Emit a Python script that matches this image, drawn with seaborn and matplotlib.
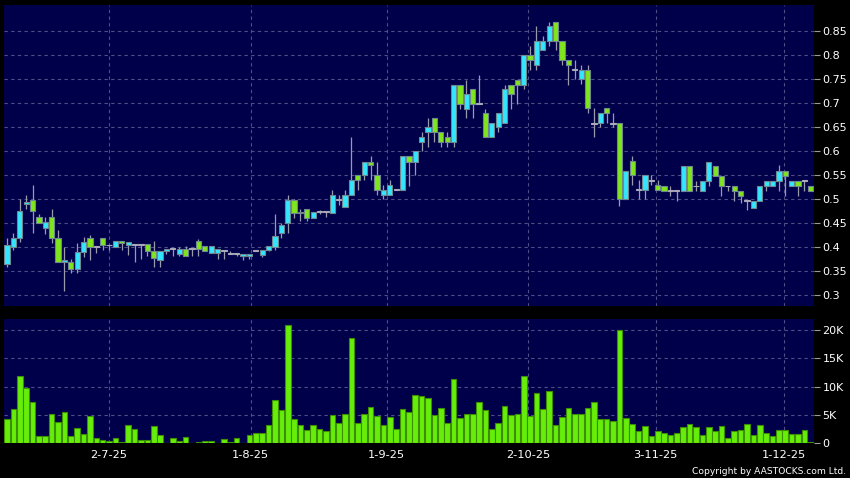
import matplotlib
matplotlib.use("Agg")
import numpy as np
import pandas as pd
import matplotlib.pyplot as plt
from matplotlib.ticker import FuncFormatter, FixedLocator
import seaborn as sns

opens = [0.366, 0.401, 0.419, 0.491, 0.499, 0.464, 0.440, 0.464, 0.419, 0.370,
         0.370, 0.355, 0.390, 0.419, 0.402, 0.419, 0.405, 0.401, 0.414, 0.405,
         0.406, 0.407, 0.407, 0.393, 0.373, 0.393, 0.397, 0.386, 0.397, 0.397,
         0.414, 0.402, 0.388, 0.388, 0.393, 0.388, 0.388, 0.383, 0.383, 0.394,
         0.384, 0.395, 0.400, 0.430, 0.450, 0.499, 0.471, 0.481, 0.461, 0.474,
         0.474, 0.471, 0.499, 0.485, 0.510, 0.550, 0.550, 0.578, 0.550, 0.510,
         0.510, 0.520, 0.520, 0.590, 0.578, 0.619, 0.641, 0.669, 0.640, 0.631,
         0.619, 0.738, 0.689, 0.730, 0.699, 0.679, 0.629, 0.650, 0.659, 0.738,
         0.749, 0.738, 0.800, 0.780, 0.811, 0.830, 0.870, 0.830, 0.790, 0.770,
         0.750, 0.770, 0.659, 0.659, 0.690, 0.659, 0.659, 0.500, 0.580, 0.520,
         0.520, 0.540, 0.530, 0.528, 0.518, 0.518, 0.518, 0.570, 0.528, 0.518,
         0.539, 0.570, 0.549, 0.528, 0.528, 0.518, 0.497, 0.483, 0.497, 0.528,
         0.528, 0.539, 0.560, 0.528, 0.539, 0.539, 0.528]
closes = [0.405, 0.419, 0.475, 0.495, 0.475, 0.451, 0.454, 0.420, 0.370, 0.374,
          0.355, 0.390, 0.411, 0.400, 0.402, 0.405, 0.405, 0.414, 0.410, 0.411,
          0.406, 0.407, 0.393, 0.377, 0.393, 0.397, 0.397, 0.397, 0.383, 0.397,
          0.397, 0.393, 0.402, 0.397, 0.393, 0.388, 0.388, 0.386, 0.386, 0.394,
          0.395, 0.402, 0.423, 0.447, 0.499, 0.471, 0.474, 0.461, 0.474, 0.474,
          0.474, 0.510, 0.499, 0.510, 0.540, 0.540, 0.578, 0.571, 0.520, 0.520,
          0.530, 0.520, 0.590, 0.578, 0.600, 0.631, 0.650, 0.640, 0.619, 0.619,
          0.738, 0.699, 0.720, 0.699, 0.699, 0.629, 0.659, 0.679, 0.730, 0.720,
          0.738, 0.800, 0.790, 0.830, 0.830, 0.861, 0.830, 0.790, 0.780, 0.770,
          0.770, 0.690, 0.659, 0.680, 0.680, 0.659, 0.500, 0.560, 0.550, 0.520,
          0.550, 0.540, 0.520, 0.518, 0.518, 0.518, 0.570, 0.518, 0.528, 0.539,
          0.578, 0.549, 0.528, 0.528, 0.518, 0.508, 0.497, 0.497, 0.528, 0.539,
          0.539, 0.560, 0.549, 0.539, 0.528, 0.539, 0.518]
highs = [0.420, 0.430, 0.500, 0.510, 0.531, 0.470, 0.464, 0.480, 0.436, 0.400,
         0.375, 0.410, 0.421, 0.426, 0.402, 0.419, 0.405, 0.414, 0.414, 0.411,
         0.406, 0.407, 0.407, 0.414, 0.393, 0.397, 0.397, 0.400, 0.403, 0.397,
         0.418, 0.402, 0.402, 0.397, 0.393, 0.393, 0.388, 0.386, 0.386, 0.394,
         0.395, 0.402, 0.469, 0.450, 0.510, 0.500, 0.480, 0.481, 0.474, 0.479,
         0.474, 0.520, 0.510, 0.520, 0.630, 0.550, 0.578, 0.590, 0.578, 0.530,
         0.540, 0.520, 0.590, 0.590, 0.600, 0.641, 0.669, 0.669, 0.640, 0.641,
         0.738, 0.738, 0.749, 0.730, 0.759, 0.689, 0.659, 0.679, 0.738, 0.738,
         0.749, 0.800, 0.820, 0.861, 0.840, 0.870, 0.870, 0.830, 0.790, 0.790,
         0.780, 0.780, 0.690, 0.680, 0.690, 0.680, 0.659, 0.560, 0.590, 0.540,
         0.550, 0.550, 0.540, 0.528, 0.528, 0.518, 0.570, 0.570, 0.539, 0.539,
         0.578, 0.570, 0.549, 0.528, 0.528, 0.518, 0.497, 0.497, 0.528, 0.539,
         0.539, 0.572, 0.560, 0.539, 0.539, 0.539, 0.528]
lows = [0.360, 0.394, 0.411, 0.480, 0.430, 0.451, 0.428, 0.410, 0.370, 0.310,
        0.346, 0.346, 0.380, 0.373, 0.389, 0.395, 0.395, 0.401, 0.395, 0.384,
        0.370, 0.376, 0.383, 0.359, 0.359, 0.386, 0.383, 0.383, 0.383, 0.383,
        0.383, 0.393, 0.388, 0.376, 0.376, 0.388, 0.383, 0.373, 0.376, 0.394,
        0.380, 0.392, 0.395, 0.420, 0.430, 0.461, 0.456, 0.456, 0.461, 0.469,
        0.464, 0.471, 0.489, 0.485, 0.510, 0.520, 0.540, 0.540, 0.510, 0.500,
        0.510, 0.520, 0.520, 0.528, 0.550, 0.600, 0.610, 0.619, 0.609, 0.609,
        0.609, 0.689, 0.669, 0.669, 0.699, 0.629, 0.629, 0.640, 0.659, 0.689,
        0.699, 0.730, 0.769, 0.770, 0.811, 0.820, 0.811, 0.780, 0.739, 0.750,
        0.740, 0.680, 0.630, 0.650, 0.660, 0.650, 0.486, 0.500, 0.530, 0.500,
        0.500, 0.530, 0.520, 0.518, 0.508, 0.497, 0.518, 0.518, 0.518, 0.518,
        0.528, 0.549, 0.508, 0.518, 0.497, 0.492, 0.478, 0.483, 0.497, 0.518,
        0.528, 0.518, 0.508, 0.528, 0.508, 0.518, 0.518]
volume_k = [4.2, 6.0, 11.8, 9.7, 7.2, 1.3, 1.2, 5.1, 3.8, 5.6,
            1.3, 2.7, 1.6, 4.8, 0.9, 0.5, 0.35, 0.9, 0.2, 3.2,
            2.5, 0.5, 0.5, 3.0, 1.4, 0.05, 0.9, 0.35, 1.1, 0.02,
            0.2, 0.35, 0.4, 0.05, 0.8, 0.3, 0.9, 0.1, 1.5, 1.8,
            1.8, 3.3, 7.7, 5.8, 20.8, 4.2, 3.2, 2.4, 3.3, 2.6,
            2.2, 4.9, 3.5, 5.1, 18.6, 3.6, 5.1, 6.4, 4.8, 3.3,
            4.6, 2.6, 6.1, 5.6, 8.5, 8.4, 8.0, 5.0, 6.3, 3.6,
            11.4, 4.5, 5.1, 5.1, 7.2, 5.9, 2.5, 3.5, 6.5, 4.9,
            5.2, 11.9, 4.8, 8.8, 6.0, 9.2, 3.2, 4.7, 6.2, 5.1,
            5.2, 6.3, 7.3, 4.3, 4.2, 3.9, 20.0, 4.5, 3.4, 2.2,
            3.1, 1.3, 2.1, 1.9, 1.5, 1.9, 2.9, 3.4, 2.8, 1.5,
            2.9, 2.2, 3.0, 1.0, 2.1, 2.3, 3.4, 1.5, 3.3, 1.8,
            1.2, 2.4, 2.3, 1.6, 1.6, 2.4, 0.2]
date_labels = ["2-7-25", "1-8-25", "1-9-25", "2-10-25", "3-11-25", "1-12-25"]
price_ticks = [0.3, 0.35, 0.4, 0.45, 0.5, 0.55, 0.6, 0.65, 0.7, 0.75, 0.8, 0.85]
vol_ticks = [0, 5000, 10000, 15000, 20000]
vol_tick_labels = ["0", "5K", "10K", "15K", "20K"]
copyright_text = "Copyright by AASTOCKS.com Ltd."

# tick positions (in trading-day index units)
date_tick_pos = [16.0, 38.2, 59.5, 81.7, 101.7, 121.8]

NAVY = "#00004a"
GRID = "#4f4f86"
UP = "#33e6ff"
DOWN = "#80e61c"
DOJI = "#a8a8b8"
EDGE = "#6f8890"
WICK = "#9a9aaa"
VOL = "#66ee0a"
VOL_EDGE = "#3c9000"

sns.set_style("dark", {"axes.facecolor": NAVY, "figure.facecolor": "black"})
plt.rcParams["font.family"] = ["DejaVu Sans"]

o = np.array(opens); c = np.array(closes)
h = np.array(highs); l = np.array(lows)
idx = np.arange(len(o))
df_vol = pd.DataFrame({"day": idx, "volume": np.array(volume_k) * 1000})

W, H = 850, 478
fig = plt.figure(figsize=(W / 100, H / 100), dpi=100, facecolor="black")
left = 4 / W
width = 810 / W
ax = fig.add_axes([left, 1 - 306 / H, width, 301 / H])
axv = fig.add_axes([left, 1 - 443.3 / H, width, 124.3 / H])

xlim = (-0.47, len(o) - 0.5)

# ---- price panel ----
ax.set_facecolor(NAVY)
ax.vlines(idx, l, h, color=WICK, lw=0.9, zorder=2)
body_bottom = np.minimum(o, c)
body_h = np.abs(c - o)
colors = np.where(c > o, UP, np.where(c < o, DOWN, DOJI))
is_doji = body_h < 1e-9
body_h = np.where(is_doji, 0.0018, body_h)
body_bottom = np.where(is_doji, o - 0.0009, body_bottom)
edges = np.where(is_doji, DOJI, EDGE)
ax.bar(idx, body_h, bottom=body_bottom, width=0.82, color=colors,
       edgecolor=edges, linewidth=0.8, zorder=3)
ax.set_xlim(*xlim)
ax.set_ylim(0.278, 0.905)
ax.yaxis.tick_right()
ax.yaxis.set_major_locator(FixedLocator(price_ticks))
ax.yaxis.set_major_formatter(FuncFormatter(lambda v, p: f"{v:g}"))
ax.xaxis.set_major_locator(FixedLocator(date_tick_pos))
ax.tick_params(axis="x", length=0, labelbottom=False)
ax.tick_params(axis="y", colors="#9a9a9a", labelcolor="white", length=4,
               width=0.8, pad=2, labelsize=8, direction="out")
ax.grid(True, color=GRID, linestyle=(0, (3, 3)), linewidth=0.8)
for s in ax.spines.values():
    s.set_visible(False)

# ---- volume panel ----
axv.set_facecolor(NAVY)
sns.barplot(data=df_vol, x="day", y="volume", native_scale=True, ax=axv,
            color=VOL, saturation=1, edgecolor=VOL_EDGE, linewidth=0.8,
            width=0.88, errorbar=None, zorder=3)
axv.set_xlim(*xlim)
axv.set_ylim(0, 21900)
axv.yaxis.tick_right()
axv.yaxis.set_major_locator(FixedLocator(vol_ticks))
axv.set_yticklabels(vol_tick_labels)
axv.xaxis.set_major_locator(FixedLocator(date_tick_pos))
axv.set_xticklabels(date_labels)
axv.set_xlabel("")
axv.set_ylabel("")
axv.tick_params(axis="y", colors="#9a9a9a", labelcolor="white", length=4,
                width=0.8, pad=2, labelsize=8, direction="out")
axv.tick_params(axis="x", colors="#9a9a9a", labelcolor="white", length=3,
                width=0.8, pad=2, labelsize=8.2, direction="out")
axv.grid(True, color=GRID, linestyle=(0, (3, 3)), linewidth=0.8)
axv.set_axisbelow(True)
for s in axv.spines.values():
    s.set_visible(False)

fig.text(846 / W, 1 - 471.5 / H, copyright_text, color="white", fontsize=6.6,
         ha="right", va="center")

fig.savefig("out.png", dpi=100, facecolor="black")
